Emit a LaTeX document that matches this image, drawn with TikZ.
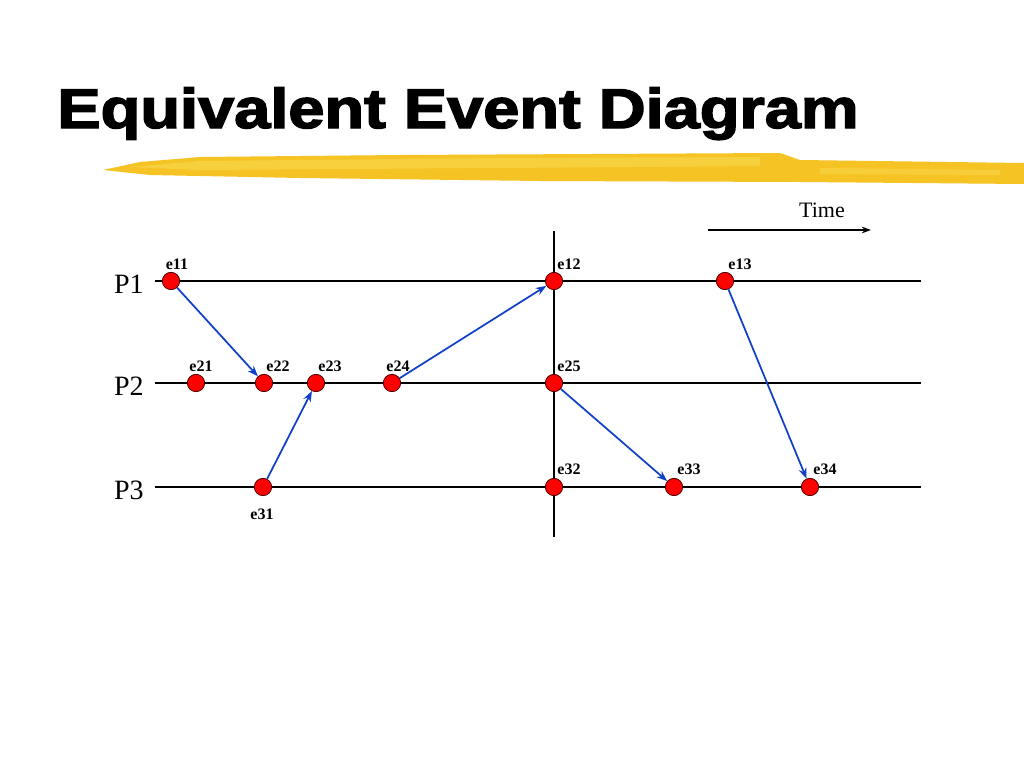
\documentclass[tikz,border=0pt]{standalone}
\usepackage{fontspec}
\setmainfont{Liberation Serif}
\newfontfamily\titlefont[FakeBold=2.5]{Liberation Sans}
\usetikzlibrary{arrows.meta}
\definecolor{brushA}{HTML}{F5C323}
\definecolor{brushB}{HTML}{F9D64A}
\definecolor{evred}{HTML}{FF0000}
\definecolor{msgblue}{HTML}{1040C8}
\tikzset{
  ev/.style={circle,draw=black!70!red,line width=0.6pt,fill=evred,minimum size=13pt,inner sep=0pt},
  lbl/.style={font=\fontsize{12}{14}\selectfont\bfseries,inner sep=0pt},
  proc/.style={font=\fontsize{21}{24}\selectfont,inner sep=0pt},
  pline/.style={line width=1.5pt,black},
  msg/.style={-{Stealth[length=8pt,width=6pt]},line width=1.3pt,msgblue}
}
\begin{document}
\begin{tikzpicture}[x=0.75pt,y=-0.75pt]
\useasboundingbox (0,0) rectangle (1024,768);
\fill[white] (0,0) rectangle (1024,768);
% title
\node[anchor=base west,inner sep=0pt,xscale=1.16,font=\titlefont\bfseries\fontsize{42}{46}\selectfont] (title) at (57,128) {Equivalent Event Diagram};
% brush stroke
\fill[brushA] (103,170) -- (140,162) -- (200,157) -- (400,155) -- (780,153) -- (800,160) -- (1024,163) -- (1024,184) -- (800,182) -- (540,181) -- (300,178) -- (150,175) -- cycle;
\fill[brushB,opacity=0.7] (130,167) -- (200,161) -- (500,158) -- (760,157) -- (760,166) -- (500,168) -- (200,170) -- cycle;
\fill[brushB,opacity=0.6] (820,168) -- (1000,170) -- (1000,175) -- (820,174) -- cycle;
% time arrow
\node[font=\fontsize{16.5}{18}\selectfont,inner sep=0pt] (time) at (822,210) {Time};
\coordinate (ts) at (708,230);
\coordinate (te) at (871,230);
\draw[-{Stealth[length=7pt,width=5pt]},line width=1.2pt] (ts) -- (te);
% process lines
\coordinate (p1s) at (155,281); \coordinate (p1e) at (921,281);
\coordinate (p2s) at (155,383); \coordinate (p2e) at (921,383);
\coordinate (p3s) at (155,487); \coordinate (p3e) at (921,487);
\draw[pline] (p1s) -- (p1e);
\draw[pline] (p2s) -- (p2e);
\draw[pline] (p3s) -- (p3e);
\coordinate (vs) at (554,231); \coordinate (ve) at (554,537);
\draw[pline] (vs) -- (ve);
\node[proc,anchor=east] (P1) at (144,284) {P1};
\node[proc,anchor=east] (P2) at (144,386) {P2};
\node[proc,anchor=east] (P3) at (144,490) {P3};
% events
\node[ev] (e11) at (171,281) {};
\node[ev] (e12) at (554,281) {};
\node[ev] (e13) at (725,281) {};
\node[ev] (e21) at (196,383) {};
\node[ev] (e22) at (264,383) {};
\node[ev] (e23) at (316,383) {};
\node[ev] (e24) at (392,383) {};
\node[ev] (e25) at (554,383) {};
\node[ev] (e31) at (263,487) {};
\node[ev] (e32) at (554,487) {};
\node[ev] (e33) at (674,487) {};
\node[ev] (e34) at (810,487) {};
% labels
\node[lbl] (l11) at (177,264) {e11};
\node[lbl] (l12) at (569,264) {e12};
\node[lbl] (l13) at (740,264) {e13};
\node[lbl] (l21) at (201,366) {e21};
\node[lbl] (l22) at (278,366) {e22};
\node[lbl] (l23) at (330,366) {e23};
\node[lbl] (l24) at (398,366) {e24};
\node[lbl] (l25) at (569,366) {e25};
\node[lbl] (l32) at (569,469) {e32};
\node[lbl] (l33) at (689,469) {e33};
\node[lbl] (l34) at (825,469) {e34};
\node[lbl] (l31) at (262,514) {e31};
% messages
\draw[msg] (e11) -- (e22);
\draw[msg] (e31) -- (e23);
\draw[msg] (e24) -- (e12);
\draw[msg] (e25) -- (e33);
\draw[msg] (e13) -- (e34);
\end{tikzpicture}
\end{document}
